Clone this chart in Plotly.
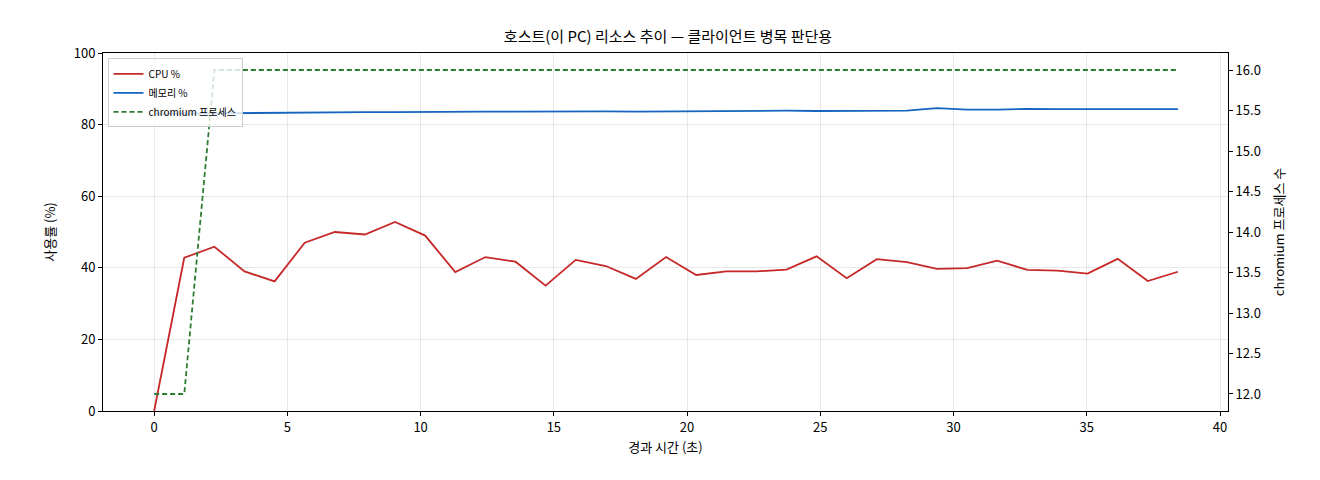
import plotly.graph_objects as go

# elapsed seconds, sampled about every 1.13 s
elapsed = [0.0, 1.13, 2.26, 3.39, 4.52, 5.65, 6.78, 7.91, 9.04, 10.17, 11.3, 12.43,
           13.56, 14.69, 15.82, 16.95, 18.08, 19.21, 20.34, 21.47, 22.6, 23.73, 24.86,
           25.99, 27.12, 28.25, 29.38, 30.51, 31.64, 32.77, 33.9, 35.03, 36.16, 37.29, 38.42]
cpu_pct = [0, 42.8, 45.9, 39.0, 36.2, 47.0, 50.0, 49.3, 52.8, 49.0, 38.8, 43.0,
           41.7, 35.0, 42.2, 40.5, 36.9, 43.0, 38.0, 39.0, 39.0, 39.5, 43.2,
           37.1, 42.4, 41.6, 39.7, 39.9, 42.0, 39.4, 39.2, 38.4, 42.5, 36.3, 38.9]
mem_pct = [83.0, 83.1, 83.2, 83.3, 83.3, 83.3, 83.5, 83.5, 83.5, 83.6, 83.6, 83.6,
           83.6, 83.7, 83.7, 83.7, 83.6, 83.7, 83.7, 83.8, 83.8, 83.9, 83.8,
           83.8, 83.9, 83.9, 84.6, 84.2, 84.2, 84.4, 84.3, 84.3, 84.3, 84.3, 84.3]
chromium_procs = [12, 12] + [16] * 33

FONT = "Noto Sans CJK KR"

fig = go.Figure()
fig.add_trace(go.Scatter(x=elapsed, y=cpu_pct, name="CPU %", mode="lines",
                         line=dict(color="#c62828", width=1.8)))
fig.add_trace(go.Scatter(x=elapsed, y=mem_pct, name="메모리 %", mode="lines",
                         line=dict(color="#1565c0", width=1.8)))
fig.add_trace(go.Scatter(x=elapsed, y=chromium_procs, name="chromium 프로세스", mode="lines",
                         line=dict(color="#2e7d32", width=1.8, dash="5px,3px"), yaxis="y2"))

axis_common = dict(showline=True, linecolor="black", linewidth=1, ticks="outside",
                   tickcolor="black", ticklen=4, tickfont=dict(size=13, color="black"),
                   zeroline=False, automargin=False)

fig.update_layout(
    width=1320, height=480,
    paper_bgcolor="white", plot_bgcolor="white",
    font=dict(family=FONT, color="black"),
    margin=dict(l=95, r=100, t=45, b=77, autoexpand=False),
    title=dict(text="호스트(이 PC) 리소스 추이 — 클라이언트 병목 판단용", x=0.5, y=0.94,
               xanchor="center", yanchor="middle", font=dict(size=15)),
    xaxis=dict(axis_common, range=[-1.92, 40.3], dtick=5, showgrid=True,
               gridcolor="rgba(0,0,0,0.09)", mirror=True,
               title=dict(text="경과 시간 (초)", font=dict(size=13), standoff=8)),
    yaxis=dict(axis_common, range=[0, 100], dtick=20, showgrid=True,
               gridcolor="rgba(0,0,0,0.09)",
               title=dict(text="사용률 (%)", font=dict(size=13))),
    yaxis2=dict(axis_common, overlaying="y", side="right", range=[11.79, 16.21],
                dtick=0.5, tickformat=".1f", showgrid=False,
                title=dict(text="chromium 프로세스 수", font=dict(size=13))),
    legend=dict(x=0.004, y=0.985, xanchor="left", yanchor="top",
                bgcolor="rgba(255,255,255,0.8)", bordercolor="#cccccc", borderwidth=1,
                font=dict(size=10), tracegroupgap=0, itemwidth=30),
    showlegend=True,
)

fig.write_html("out.html")
